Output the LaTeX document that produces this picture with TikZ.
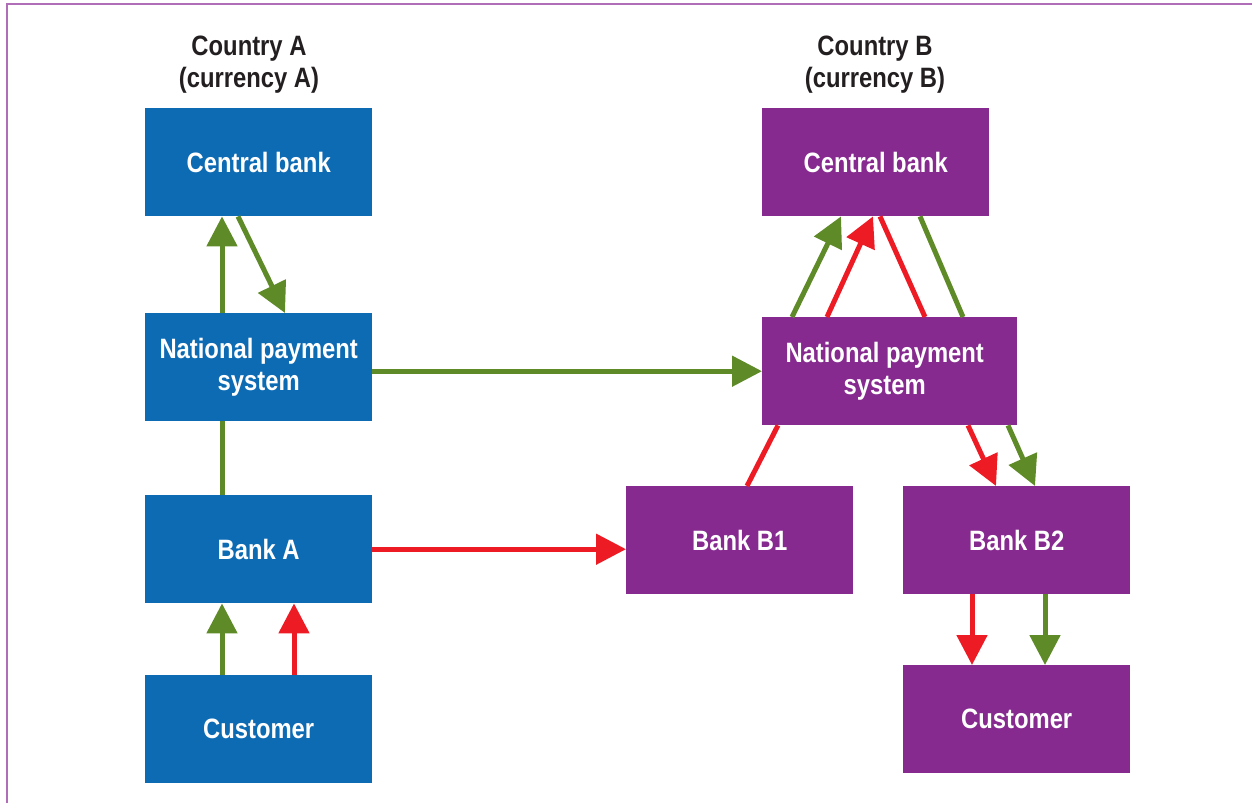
\documentclass[tikz,border=0pt]{standalone}
\usepackage{fontspec}
\setmainfont{Liberation Sans}[FakeStretch=0.85]
\usetikzlibrary{arrows.meta}
\definecolor{boxblue}{RGB}{13,107,180}
\definecolor{boxpurple}{RGB}{134,42,143}
\definecolor{agreen}{RGB}{94,138,39}
\definecolor{ared}{RGB}{237,28,36}
\definecolor{frame}{RGB}{176,110,184}
\definecolor{titlecol}{RGB}{35,31,32}
\tikzset{
  box/.style={anchor=north west, inner sep=0pt, minimum width=227pt, minimum height=108pt,
    text=white, align=center, font=\fontsize{28}{32}\selectfont\bfseries},
  bluebox/.style={box, fill=boxblue},
  purplebox/.style={box, fill=boxpurple},
  title/.style={align=center, text=titlecol, font=\fontsize{28}{32}\selectfont\bfseries},
  gline/.style={draw=agreen, line width=5pt},
  rline/.style={draw=ared, line width=5pt},
  garrow/.style={gline, -{Triangle[length=30pt,width=30pt]}},
  rarrow/.style={rline, -{Triangle[length=30pt,width=30pt]}},
}
\begin{document}
\begin{tikzpicture}[x=1pt,y=-1pt]
\useasboundingbox (0,0) rectangle (1252,803);
\draw[frame, line width=2pt] (7,803) -- (7,3.5) -- (1252,3.5);
% titles
\node[title] (tA) at (249,65) {Country A\\(currency A)};
\node[title] (tB) at (875,65) {Country B\\(currency B)};
% country A boxes
\node[bluebox] (cbA) at (145,108) {Central bank};
\node[bluebox] (npsA) at (145,313) {\raisebox{-3pt}{National payment}\\\raisebox{-3pt}{system}};
\node[bluebox] (bankA) at (145,495) {Bank A};
\node[bluebox] (custA) at (145,675) {Customer};
% country B boxes
\node[purplebox] (cbB) at (762,108) {Central bank};
\node[purplebox, minimum width=255pt] (npsB) at (762,317) {\raisebox{-3pt}{National payment\kern10pt}\\\raisebox{-3pt}{system\kern10pt}};
\node[purplebox] (bankB1) at (626,486) {Bank B1};
\node[purplebox] (bankB2) at (903,486) {Bank B2};
\node[purplebox] (custB) at (903,665) {Customer};
% country A connectors
\draw[garrow] ([xshift=77pt]npsA.north west) -- ([xshift=77pt]cbA.south west);
\draw[garrow] ([xshift=93pt]cbA.south west) -- ([xshift=140pt]npsA.north west);
\draw[gline] ([xshift=77pt]bankA.north west) -- ([xshift=77pt]npsA.south west);
\draw[garrow] ([xshift=77pt]custA.north west) -- ([xshift=77pt]bankA.south west);
\draw[rarrow] ([xshift=149pt]custA.north west) -- ([xshift=149pt]bankA.south west);
% cross-border
\draw[garrow] (npsA.east |- npsB.west) -- (npsB.west);
\draw[rarrow] (bankA.east) -- (bankB1.west |- bankA.east);
% country B connectors
\draw[garrow] ([xshift=30pt]npsB.north west) -- ([xshift=79pt]cbB.south west);
\draw[rarrow] ([xshift=65pt]npsB.north west) -- ([xshift=111pt]cbB.south west);
\draw[rline] ([xshift=118pt]cbB.south west) -- ([xshift=163pt]npsB.north west);
\draw[gline] ([xshift=158pt]cbB.south west) -- ([xshift=201pt]npsB.north west);
\draw[rline] ([xshift=121pt]bankB1.north west) -- ([xshift=16pt]npsB.south west);
\draw[rarrow] ([xshift=206pt]npsB.south west) -- ([xshift=93pt]bankB2.north west);
\draw[garrow] ([xshift=246pt]npsB.south west) -- ([xshift=132pt]bankB2.north west);
\draw[rarrow] ([xshift=69pt]bankB2.south west) -- ([xshift=69pt]custB.north west);
\draw[garrow] ([xshift=142pt]bankB2.south west) -- ([xshift=142pt]custB.north west);
\end{tikzpicture}
\end{document}
